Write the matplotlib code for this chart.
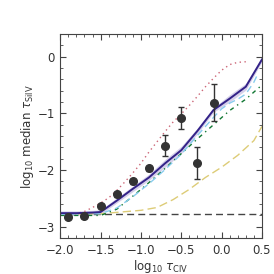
import numpy as np
import matplotlib
matplotlib.use("Agg")
import matplotlib.pyplot as plt
from matplotlib.ticker import MultipleLocator

# observed medians
obs_x = [-1.9, -1.7, -1.5, -1.3, -1.1, -0.9, -0.7, -0.5, -0.3, -0.1]
obs_y = [-2.82, -2.81, -2.63, -2.43, -2.20, -1.97, -1.57, -1.08, -1.87, -0.81]
obs_err = [0.03, 0.03, 0.03, 0.04, 0.04, 0.04, 0.18, 0.20, 0.28, 0.32]

# fiducial model with scatter band
fid_x = [-2.0, -1.8, -1.6, -1.5, -1.3, -1.1, -0.9, -0.7, -0.5, -0.3, -0.1, 0.1, 0.3, 0.5]
fid_y = [-2.76, -2.76, -2.75, -2.74, -2.54, -2.33, -2.13, -1.88, -1.65, -1.31, -0.94, -0.74, -0.53, -0.05]
fid_lo = [-2.80, -2.80, -2.79, -2.78, -2.58, -2.38, -2.18, -1.95, -1.71, -1.36, -0.98, -0.80, -0.59, -0.09]
fid_hi = [-2.72, -2.72, -2.71, -2.70, -2.49, -2.28, -2.07, -1.81, -1.58, -1.26, -0.90, -0.67, -0.47, -0.01]

red_x = [-2.0, -1.8, -1.7, -1.6, -1.5, -1.4, -1.3, -1.2, -1.1, -1.0, -0.9, -0.8, -0.7,
         -0.6, -0.5, -0.4, -0.3, -0.2, -0.1, 0.0, 0.1, 0.2, 0.3]
red_y = [-2.77, -2.77, -2.73, -2.66, -2.58, -2.49, -2.36, -2.21, -2.05, -1.88, -1.68, -1.50,
         -1.32, -1.15, -1.01, -0.86, -0.70, -0.53, -0.38, -0.24, -0.14, -0.10, -0.09]

cyan_x = [-2.0, -1.5, -1.3, -1.1, -0.9, -0.7, -0.5, -0.3, -0.1, 0.0, 0.1, 0.2, 0.3, 0.4, 0.45]
cyan_y = [-2.78, -2.77, -2.67, -2.47, -2.24, -1.99, -1.72, -1.39, -1.07, -0.92, -0.82, -0.75,
          -0.66, -0.45, -0.30]

green_x = [-2.0, -1.5, -1.3, -1.1, -0.9, -0.7, -0.5, -0.3, -0.1, 0.1, 0.3, 0.5]
green_y = [-2.80, -2.80, -2.69, -2.46, -2.22, -1.97, -1.71, -1.45, -1.20, -0.95, -0.75, -0.50]

yellow_x = [-2.0, -1.5, -1.0, -0.8, -0.6, -0.4, -0.2, 0.0, 0.2, 0.4, 0.5]
yellow_y = [-2.78, -2.77, -2.71, -2.66, -2.52, -2.34, -2.13, -1.95, -1.74, -1.48, -1.23]

noise_level = -2.77

fig = plt.figure(figsize=(2.74, 2.74), dpi=100)
ax = fig.add_axes([0.22, 0.131, 0.736, 0.745])

ax.axhline(noise_level, color='#444444', ls=(0, (5, 3)), lw=1.0)
ax.plot(yellow_x, yellow_y, color='#DDCC77', ls=(0, (6, 3)), lw=1.0)
ax.plot(green_x, green_y, color='#117733', ls=(0, (3, 3, 1, 3)), lw=1.0)
ax.plot(cyan_x, cyan_y, color='#88CCEE', ls=(0, (5, 3)), lw=1.0)
ax.plot(red_x, red_y, color='#CC6677', ls=(0, (1, 2.5, 1, 2.5)), lw=1.0)
ax.fill_between(fid_x, fid_lo, fid_hi, color='#7766bb', alpha=0.3, lw=0)
ax.plot(fid_x, fid_y, color='#332288', lw=1.4)

ax.errorbar(obs_x, obs_y, yerr=obs_err, fmt='o', color='#333333', ms=5.5,
            capsize=2.5, elinewidth=1.0, capthick=1.0, zorder=5)

ax.set_xlim(-2.0, 0.5)
ax.set_ylim(-3.2, 0.4)
ax.xaxis.set_major_locator(MultipleLocator(0.5))
ax.xaxis.set_minor_locator(MultipleLocator(0.1))
ax.yaxis.set_major_locator(MultipleLocator(1))
ax.yaxis.set_minor_locator(MultipleLocator(0.2))
ax.tick_params(which='both', direction='in', top=True, right=True,
               labelsize=8.5, colors='#444444', labelcolor='#333333')
ax.tick_params(which='major', length=4, width=0.8, pad=4)
ax.tick_params(which='minor', length=2, width=0.6)
for s in ax.spines.values():
    s.set_color('#444444')
    s.set_linewidth(0.8)

ax.set_xlabel(r'log$_{10}$ $\tau_{\rm CIV}$', fontsize=8.5, color='#333333', labelpad=1)
ax.set_ylabel(r'log$_{10}$ median $\tau_{\rm SiIV}$', fontsize=8.5, color='#333333', labelpad=1)

fig.savefig('out.png', dpi=100)
